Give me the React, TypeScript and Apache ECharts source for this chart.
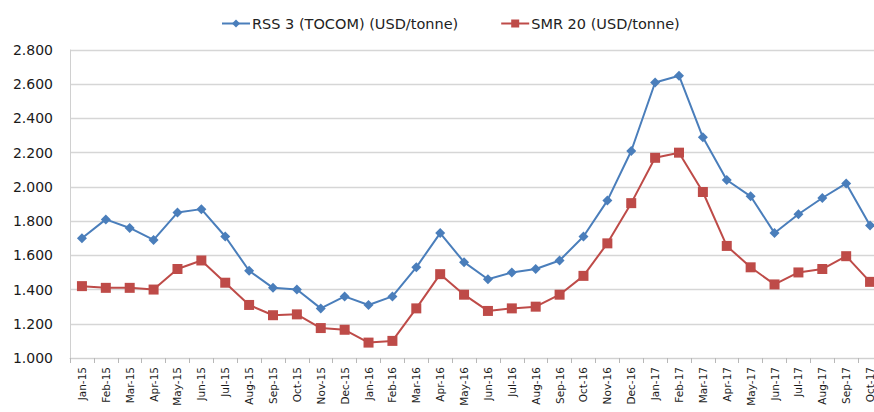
import React, { useEffect, useRef } from "react";
import * as echarts from "echarts";

const categories = [
  "Jan-15", "Feb-15", "Mar-15", "Apr-15", "May-15", "Jun-15", "Jul-15", "Aug-15", "Sep-15", "Oct-15", "Nov-15", "Dec-15",
  "Jan-16", "Feb-16", "Mar-16", "Apr-16", "May-16", "Jun-16", "Jul-16", "Aug-16", "Sep-16", "Oct-16", "Nov-16", "Dec-16",
  "Jan-17", "Feb-17", "Mar-17", "Apr-17", "May-17", "Jun-17", "Jul-17", "Aug-17", "Sep-17", "Oct-17",
];

const rss3 = [
  1700, 1810, 1760, 1690, 1850, 1870, 1710, 1510, 1410, 1400, 1290, 1360,
  1310, 1360, 1530, 1730, 1560, 1460, 1500, 1520, 1570, 1710, 1920, 2210,
  2610, 2650, 2290, 2040, 1945, 1730, 1840, 1935, 2020, 1775,
];

const smr20 = [
  1420, 1410, 1410, 1400, 1520, 1570, 1440, 1310, 1250, 1255, 1175, 1165,
  1090, 1100, 1290, 1490, 1370, 1275, 1290, 1300, 1370, 1480, 1670, 1905,
  2170, 2200, 1970, 1655, 1530, 1430, 1500, 1520, 1595, 1445,
];

const seriesNames = ["RSS 3 (TOCOM) (USD/tonne)", "SMR 20 (USD/tonne)"];

const fmt = (v: number) => {
  const s = Math.round(v).toString();
  return s.length > 3 ? s.slice(0, s.length - 3) + "." + s.slice(s.length - 3) : s;
};

export default function App() {
  const ref = useRef<HTMLDivElement>(null);
  useEffect(() => {
    if (!ref.current) return;
    const chart = echarts.init(ref.current, null, { renderer: "svg" });
    const font = "'DejaVu Sans', 'Liberation Sans', sans-serif";
    chart.setOption({
      animation: false,
      textStyle: { fontFamily: font },
      legend: {
        top: 11,
        left: 216,
        itemGap: 42,
        itemWidth: 28,
        itemHeight: 10,
        textStyle: { fontSize: 14.5, color: "#222", fontFamily: font, padding: [0, 0, 0, -3] },
        data: seriesNames,
      },
      grid: { left: 70, top: 50, bottom: 54, width: 812, outerBoundsMode: "none" },
      xAxis: {
        type: "category",
        data: categories,
        boundaryGap: true,
        axisLine: { lineStyle: { color: "#d0d0d0" } },
        axisTick: { show: true, length: 5, lineStyle: { color: "#b8b8b8" } },
        axisLabel: { rotate: 90, fontSize: 10.5, color: "#1a1a1a", margin: 9, interval: 0, fontFamily: font },
      },
      yAxis: {
        type: "value",
        min: 1000,
        max: 2800,
        interval: 200,
        axisLine: { show: true, lineStyle: { color: "#d0d0d0" } },
        axisTick: { show: false },
        splitLine: { lineStyle: { color: "#d6d6d6", width: 1.3 } },
        axisLabel: { fontSize: 14, color: "#1a1a1a", margin: 17, formatter: fmt, fontFamily: font },
      },
      series: [
        {
          name: seriesNames[0],
          type: "line",
          data: rss3,
          symbol: "diamond",
          symbolSize: 10,
          lineStyle: { color: "#4A7EBB", width: 2 },
          itemStyle: { color: "#4A7EBB" },
        },
        {
          name: seriesNames[1],
          type: "line",
          data: smr20,
          symbol: "rect",
          symbolSize: 10,
          lineStyle: { color: "#BE4B48", width: 2 },
          itemStyle: { color: "#BE4B48" },
        },
      ],
    });
    return () => chart.dispose();
  }, []);
  return (
    <div style={{ position: "absolute", left: 0, top: 0, width: 874, height: 412, overflow: "hidden", background: "#fff" }}>
      <div ref={ref} style={{ width: 874, height: 412 }} />
    </div>
  );
}
